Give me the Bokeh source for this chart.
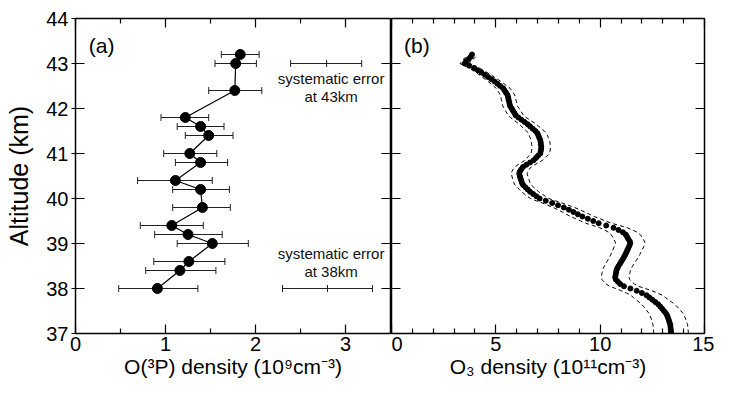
import numpy as np
from bokeh.plotting import figure
from bokeh.models import (ColumnDataSource, Whisker, TeeHead, FixedTicker, LinearAxis,
                          Range1d, Label, CustomJSTickFormatter)
from bokeh.layouts import row
from bokeh.embed import file_html
from bokeh.resources import INLINE

FONT = "Liberation Sans"

# ---------------- Panel (a): O(3P) density ----------------
o_alt = [43.2, 43.0, 42.4, 41.8, 41.6, 41.4, 41.0, 40.8, 40.4, 40.2,
         39.8, 39.4, 39.2, 39.0, 38.6, 38.4, 38.0]
o_dens = [1.83, 1.78, 1.77, 1.22, 1.39, 1.48, 1.27, 1.39, 1.11, 1.39,
          1.41, 1.07, 1.25, 1.52, 1.26, 1.16, 0.91]
o_lo = [1.62, 1.55, 1.48, 0.95, 1.13, 1.22, 0.98, 1.11, 0.69, 1.08,
        1.08, 0.72, 0.88, 1.13, 0.87, 0.78, 0.48]
o_hi = [2.04, 2.01, 2.07, 1.48, 1.65, 1.75, 1.57, 1.69, 1.52, 1.71,
        1.72, 1.42, 1.63, 1.92, 1.66, 1.56, 1.36]

sys_alt = [43.0, 38.0]
sys_center = [2.79, 2.80]
sys_lo = [2.39, 2.30]
sys_hi = [3.18, 3.30]
sys_text = ["systematic error\nat 43km", "systematic error\nat 38km"]

# ---------------- Panel (b): O3 density ----------------
o3_alt = [37.00, 37.05, 37.10, 37.15, 37.20, 37.25, 37.30, 37.35, 37.40, 37.45,
          37.50, 37.55, 37.60, 37.65, 37.70, 37.75, 37.80, 37.85, 37.90, 37.95,
          38.00, 38.05, 38.10, 38.15, 38.20, 38.25, 38.30, 38.35, 38.40, 38.45,
          38.50, 38.55, 38.60, 38.65, 38.70, 38.75, 38.80, 38.85, 38.90, 38.95,
          39.00, 39.05, 39.10, 39.15, 39.20, 39.25, 39.30, 39.35, 39.40, 39.45,
          39.50, 39.55, 39.60, 39.65, 39.70, 39.75, 39.80, 39.85, 39.90, 39.95,
          40.00, 40.05, 40.10, 40.15, 40.20, 40.25, 40.30, 40.35, 40.40, 40.45,
          40.50, 40.55, 40.60, 40.65, 40.70, 40.75, 40.80, 40.85, 40.90, 40.95,
          41.00, 41.05, 41.10, 41.15, 41.20, 41.25, 41.30, 41.35, 41.40, 41.45,
          41.50, 41.55, 41.60, 41.65, 41.70, 41.75, 41.80, 41.85, 41.90, 41.95,
          42.00, 42.05, 42.10, 42.15, 42.20, 42.25, 42.30, 42.35, 42.40, 42.45,
          42.50, 42.55, 42.60, 42.65, 42.70, 42.75, 42.80, 42.85, 42.90, 42.95,
          43.00, 43.05, 43.10, 43.15, 43.20]
o3_dens = [13.40, 13.39, 13.38, 13.37, 13.36, 13.32, 13.29, 13.25, 13.21, 13.15,
           13.06, 12.97, 12.88, 12.78, 12.64, 12.50, 12.36, 12.22, 12.00, 11.75,
           11.45, 11.14, 10.96, 10.85, 10.75, 10.72, 10.74, 10.76, 10.78, 10.82,
           10.88, 10.95, 11.01, 11.08, 11.14, 11.20, 11.25, 11.30, 11.35, 11.40,
           11.44, 11.42, 11.35, 11.29, 11.22, 11.09, 10.88, 10.64, 10.29, 9.93,
           9.67, 9.41, 9.15, 8.93, 8.72, 8.50, 8.26, 7.98, 7.70, 7.39,
           7.10, 6.94, 6.79, 6.64, 6.53, 6.42, 6.31, 6.25, 6.22, 6.18,
           6.15, 6.12, 6.15, 6.22, 6.30, 6.46, 6.64, 6.81, 6.92, 7.02,
           7.13, 7.15, 7.17, 7.18, 7.16, 7.15, 7.13, 7.08, 7.04, 6.99,
           6.90, 6.77, 6.65, 6.53, 6.38, 6.23, 6.08, 5.95, 5.89, 5.82,
           5.76, 5.69, 5.66, 5.64, 5.61, 5.59, 5.56, 5.49, 5.42, 5.35,
           5.21, 5.08, 4.94, 4.79, 4.63, 4.48, 4.31, 4.14, 3.96, 3.73,
           3.50, 3.58, 3.70, 3.80, 3.86]
o3_rel_err = 0.062

alt_ticks = [37, 38, 39, 40, 41, 42, 43, 44]


def style_axis(ax):
    ax.axis_line_color = None
    ax.major_tick_line_color = "black"
    ax.minor_tick_line_color = "black"
    ax.major_tick_line_width = 1.2
    ax.minor_tick_line_width = 1.2
    ax.major_tick_in = 9
    ax.major_tick_out = 0
    ax.minor_tick_in = 5
    ax.minor_tick_out = 0
    ax.major_label_text_font = FONT
    ax.major_label_text_font_size = "20px"
    ax.major_label_text_color = "black"
    ax.axis_label_text_font = FONT
    ax.axis_label_text_font_style = "normal"
    ax.axis_label_text_color = "black"


def empty_axis(loc_ticks, minor=None):
    ax = LinearAxis(ticker=FixedTicker(ticks=loc_ticks, minor_ticks=minor or []),
                    formatter=CustomJSTickFormatter(code="return ''"))
    style_axis(ax)
    ax.major_label_standoff = 0
    return ax


def base_fig(width, xr, bl, br):
    p = figure(width=width, height=380, x_range=xr, y_range=Range1d(37, 44),
               output_backend="svg", toolbar_location=None,
               min_border_left=bl, min_border_right=br, min_border_top=18,
               min_border_bottom=0)
    p.grid.visible = False
    p.outline_line_color = "black"
    p.outline_line_width = 1.5
    p.outline_line_alpha = 1.0
    p.background_fill_color = "white"
    p.border_fill_color = "white"
    return p


# ---- left figure ----
p1 = base_fig(391, Range1d(0, 3.5), 75, 1)
xa = p1.xaxis[0]
style_axis(xa)
xa.ticker = FixedTicker(ticks=[0, 1, 2, 3], minor_ticks=[0.5, 1.5, 2.5])
xa.major_label_standoff = 3
xa.axis_label = "O(³P) density (10⁹cm⁻³)"
xa.axis_label_text_font_size = "21px"
xa.axis_label_standoff = 1

ya = p1.yaxis[0]
style_axis(ya)
ya.ticker = FixedTicker(ticks=alt_ticks)
ya.major_tick_out = 4
ya.major_label_standoff = 3
ya.axis_label = "Altitude (km)"
ya.axis_label_text_font_size = "25px"
ya.axis_label_standoff = 10

p1.add_layout(empty_axis([0, 1, 2, 3], [0.5, 1.5, 2.5]), "above")
p1.add_layout(empty_axis(alt_ticks), "right")

src_o = ColumnDataSource(dict(alt=o_alt, dens=o_dens, lo=o_lo, hi=o_hi))
p1.add_layout(Whisker(source=src_o, base="alt", lower="lo", upper="hi", dimension="width",
                      line_color="#222222", line_width=1,
                      upper_head=TeeHead(size=7, line_color="#222222", line_width=1),
                      lower_head=TeeHead(size=7, line_color="#222222", line_width=1)))
p1.line("dens", "alt", source=src_o, line_color="black", line_width=1.2)
p1.scatter("dens", "alt", source=src_o, size=10, color="black")

src_s = ColumnDataSource(dict(alt=sys_alt, c=sys_center, lo=sys_lo, hi=sys_hi))
p1.add_layout(Whisker(source=src_s, base="alt", lower="lo", upper="hi", dimension="width",
                      line_color="#222222", line_width=1,
                      upper_head=TeeHead(size=7, line_color="#222222", line_width=1),
                      lower_head=TeeHead(size=7, line_color="#222222", line_width=1)))
p1.scatter("c", "alt", source=src_s, marker="dash", angle=np.pi / 2, size=7,
           line_color="#222222", line_width=1)

for txt, ty in zip(sys_text, [42.47, 38.57]):
    p1.add_layout(Label(x=2.84, y=ty, text=txt, text_align="center", text_baseline="middle",
                        text_font=FONT, text_font_size="15px", text_color="#111111",
                        text_line_height=1.05))
p1.add_layout(Label(x=0.29, y=43.41, text="(a)", text_align="center", text_baseline="middle",
                    text_font=FONT, text_font_size="21px", text_color="black"))

# ---- right figure ----
p2 = base_fig(323, Range1d(0, 15), 0, 10)
xb = p2.xaxis[0]
style_axis(xb)
xb.ticker = FixedTicker(ticks=[0, 5, 10, 15], minor_ticks=[1, 2, 3, 4, 6, 7, 8, 9, 11, 12, 13, 14])
xb.major_label_standoff = 3
xb.axis_label = "O₃ density (10¹¹cm⁻³)"
xb.axis_label_text_font_size = "21px"
xb.axis_label_standoff = 1

yb = p2.yaxis[0]
style_axis(yb)
yb.ticker = FixedTicker(ticks=alt_ticks)
yb.formatter = CustomJSTickFormatter(code="return ''")
yb.major_label_standoff = 0

p2.add_layout(empty_axis([0, 5, 10, 15], [1, 2, 3, 4, 6, 7, 8, 9, 11, 12, 13, 14]), "above")
p2.add_layout(empty_axis(alt_ticks), "right")

o3_lo = [v * (1 - o3_rel_err) for v in o3_dens]
o3_hi = [v * (1 + o3_rel_err) for v in o3_dens]
src_b = ColumnDataSource(dict(alt=o3_alt, dens=o3_dens, lo=o3_lo, hi=o3_hi))
p2.line("lo", "alt", source=src_b, line_color="black", line_width=1, line_dash="4 3")
p2.line("hi", "alt", source=src_b, line_color="black", line_width=1, line_dash="4 3")
p2.scatter("dens", "alt", source=src_b, size=5, color="black")

p2.add_layout(Label(x=1.22, y=43.41, text="(b)", text_align="center", text_baseline="middle",
                    text_font=FONT, text_font_size="21px", text_color="black"))

layout = row(p1, p2)
open("out.html", "w").write(file_html(layout, INLINE))
